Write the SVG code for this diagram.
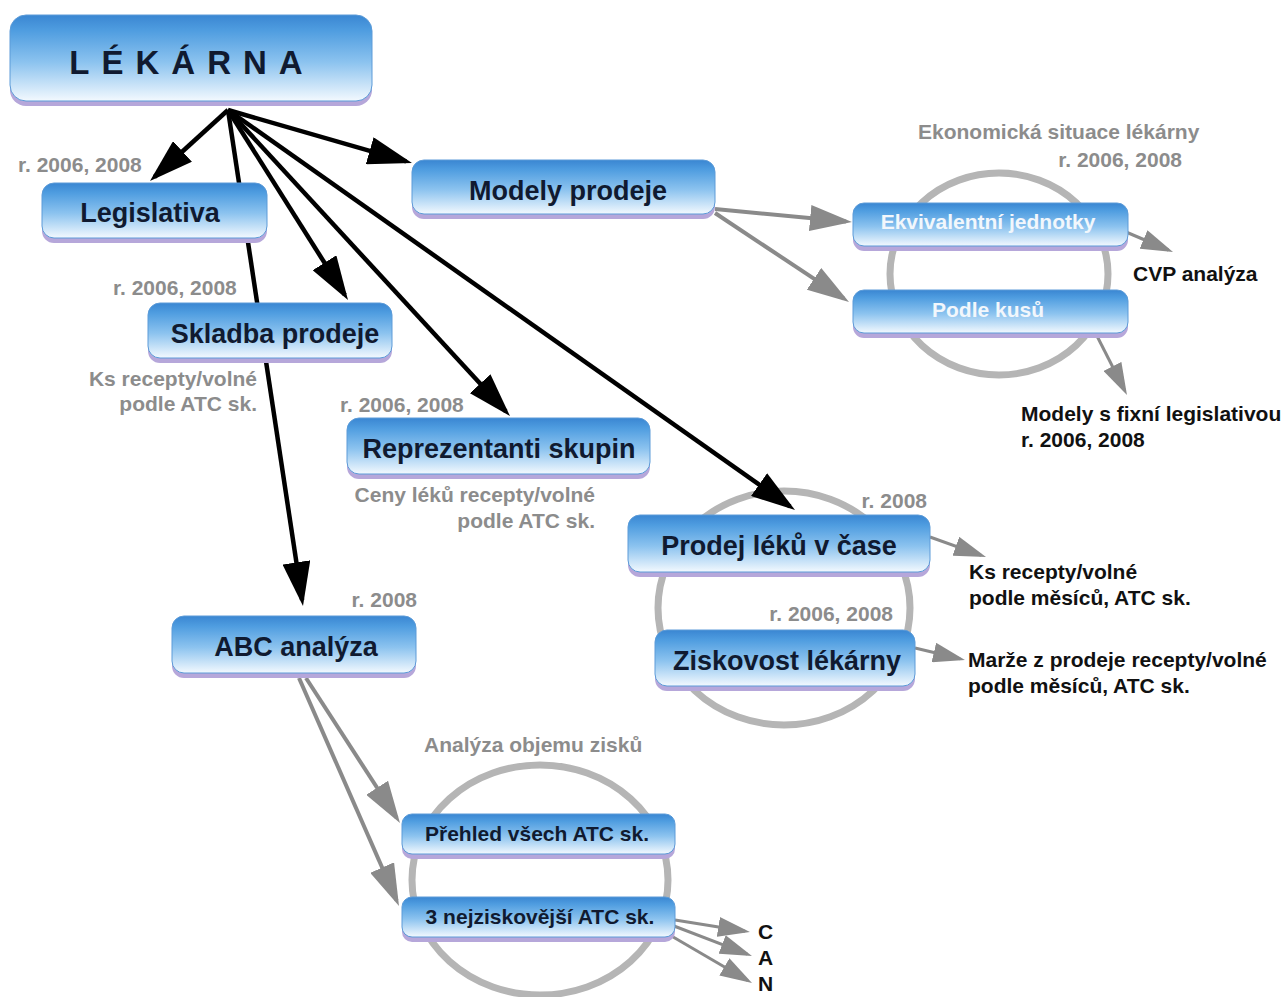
<svg xmlns="http://www.w3.org/2000/svg" width="1288" height="997" viewBox="0 0 1288 997">
<defs>
<linearGradient id="blue" x1="0" y1="0" x2="0" y2="1">
<stop offset="0" stop-color="#3a86d2"/>
<stop offset="0.18" stop-color="#4f9de0"/>
<stop offset="0.55" stop-color="#8cc3ef"/>
<stop offset="1" stop-color="#f3f9fe"/>
</linearGradient>
<marker id="ab" markerUnits="userSpaceOnUse" markerWidth="44" markerHeight="28" refX="38" refY="14" orient="auto"><path d="M0,0 L44,14 L0,28 z" fill="#000"/></marker>
<marker id="ag" markerUnits="userSpaceOnUse" markerWidth="42" markerHeight="26" refX="36" refY="13" orient="auto"><path d="M0,0 L42,13 L0,26 z" fill="#8a8a8a"/></marker>
<marker id="as" markerUnits="userSpaceOnUse" markerWidth="32" markerHeight="20" refX="27" refY="10" orient="auto"><path d="M0,0 L32,10 L0,20 z" fill="#8a8a8a"/></marker>
</defs>
<style>
.sh{fill:#b6a7da}
.bx{fill:url(#blue);stroke:#5c9bd8;stroke-width:1}
.t{font-family:"Liberation Sans",Arial,sans-serif;font-weight:bold}
.nt{font-size:27px;fill:#101a30;text-anchor:middle}
.st{font-size:21px;fill:#101a30;text-anchor:middle}
.wt{font-size:21px;fill:#f2f7fc;text-anchor:middle}
.gl{font-size:21px;fill:#8c8c8c}
.bl{font-size:21px;fill:#111}
.end{text-anchor:end}
.ring{fill:none;stroke:#b5b5b5;stroke-width:7}
.cb{stroke:#000;stroke-width:4.5;fill:none;marker-end:url(#ab)}
.cg{stroke:#8a8a8a;stroke-width:4;fill:none;marker-end:url(#ag)}
.cs{stroke:#8a8a8a;stroke-width:3;fill:none;marker-end:url(#as)}
</style>
<rect width="1288" height="997" fill="#fff"/>
<g id="rings">
<ellipse class="ring" cx="999" cy="274" rx="109" ry="101"/>
<ellipse class="ring" cx="784" cy="608" rx="126" ry="117"/>
<ellipse class="ring" cx="540" cy="880" rx="128" ry="115"/>
</g>
<g id="connectors">
<line class="cb" x1="228" y1="110" x2="154.4" y2="177"/>
<line class="cb" x1="228" y1="110" x2="406.2" y2="161.3"/>
<line class="cb" x1="228" y1="110" x2="302.1" y2="600"/>
<line class="cb" x1="228" y1="110" x2="344.8" y2="294.9"/>
<line class="cb" x1="228" y1="110" x2="505.9" y2="411.6"/>
<line class="cb" x1="228" y1="110" x2="790.1" y2="506.5"/>
<line class="cg" x1="715" y1="209" x2="846" y2="221.4"/>
<line class="cg" x1="715" y1="213" x2="844" y2="298.7"/>
<line class="cg" x1="306" y1="678" x2="396.7" y2="818"/>
<line class="cg" x1="299" y1="678" x2="396.6" y2="900.5"/>
<line class="cs" x1="1126" y1="232" x2="1168.4" y2="250"/>
<line class="cs" x1="1097" y1="336" x2="1124.7" y2="390.5"/>
<line class="cs" x1="930" y1="537" x2="981.3" y2="555.3"/>
<line class="cs" x1="915" y1="648" x2="960.1" y2="658.8"/>
<line class="cs" x1="675" y1="920" x2="745" y2="931.2"/>
<line class="cs" x1="674" y1="926" x2="747.3" y2="954.2"/>
<line class="cs" x1="668" y1="934" x2="747.7" y2="980.5"/>
</g>
<g id="n-lekarna">
<rect class="sh" x="10" y="20" width="362" height="86" rx="16"/>
<rect class="bx" x="10" y="15" width="362" height="86" rx="16"/>
<text class="t" x="192" y="74" font-size="33" fill="#101a30" text-anchor="middle" letter-spacing="12">LÉKÁRNA</text>
</g>
<g id="n-legislativa">
<rect class="sh" x="42" y="188" width="225" height="55" rx="12"/>
<rect class="bx" x="42" y="183" width="225" height="55" rx="12"/>
<text class="t nt" x="150" y="222" font-size="30">Legislativa</text>
</g>
<g id="n-modely">
<rect class="sh" x="412" y="165" width="303" height="54" rx="12"/>
<rect class="bx" x="412" y="160" width="303" height="54" rx="12"/>
<text class="t nt" x="568" y="200">Modely prodeje</text>
</g>
<g id="n-skladba">
<rect class="sh" x="148" y="308" width="244" height="55" rx="12"/>
<rect class="bx" x="148" y="303" width="244" height="55" rx="12"/>
<text class="t nt" x="275" y="343">Skladba prodeje</text>
</g>
<g id="n-reprezentanti">
<rect class="sh" x="347" y="423" width="303" height="56" rx="12"/>
<rect class="bx" x="347" y="418" width="303" height="56" rx="12"/>
<text class="t nt" x="499" y="458">Reprezentanti skupin</text>
</g>
<g id="n-prodej">
<rect class="sh" x="628" y="520" width="302" height="57" rx="12"/>
<rect class="bx" x="628" y="515" width="302" height="57" rx="12"/>
<text class="t nt" x="779" y="555">Prodej léků v čase</text>
</g>
<g id="n-ziskovost">
<rect class="sh" x="655" y="635" width="260" height="56" rx="12"/>
<rect class="bx" x="655" y="630" width="260" height="56" rx="12"/>
<text class="t nt" x="787" y="670">Ziskovost lékárny</text>
</g>
<g id="n-abc">
<rect class="sh" x="172" y="621" width="244" height="57" rx="12"/>
<rect class="bx" x="172" y="616" width="244" height="57" rx="12"/>
<text class="t nt" x="296" y="656">ABC analýza</text>
</g>
<g id="n-ekvivalentni">
<rect class="sh" x="853" y="208" width="275" height="43" rx="11"/>
<rect class="bx" x="853" y="203" width="275" height="43" rx="11"/>
<text class="t wt" x="988" y="229">Ekvivalentní jednotky</text>
</g>
<g id="n-podle">
<rect class="sh" x="853" y="295" width="275" height="43" rx="11"/>
<rect class="bx" x="853" y="290" width="275" height="43" rx="11"/>
<text class="t wt" x="988" y="317">Podle kusů</text>
</g>
<g id="n-prehled">
<rect class="sh" x="402" y="819" width="273" height="40" rx="10"/>
<rect class="bx" x="402" y="814" width="273" height="40" rx="10"/>
<text class="t st" x="537" y="841">Přehled všech ATC sk.</text>
</g>
<g id="n-nejzisk">
<rect class="sh" x="402" y="902" width="273" height="40" rx="10"/>
<rect class="bx" x="402" y="897" width="273" height="40" rx="10"/>
<text class="t st" x="540" y="924">3 nejziskovější ATC sk.</text>
</g>
<g id="labels">
<text class="t gl" x="18" y="172">r. 2006, 2008</text>
<text class="t gl" x="113" y="295">r. 2006, 2008</text>
<text class="t gl end" x="257" y="386">Ks recepty/volné</text>
<text class="t gl end" x="257" y="411">podle ATC sk.</text>
<text class="t gl" x="340" y="412">r. 2006, 2008</text>
<text class="t gl end" x="595" y="502">Ceny léků recepty/volné</text>
<text class="t gl end" x="595" y="528">podle ATC sk.</text>
<text class="t gl" x="918" y="139">Ekonomická situace lékárny</text>
<text class="t gl end" x="1182" y="167">r. 2006, 2008</text>
<text class="t gl end" x="927" y="508">r. 2008</text>
<text class="t gl end" x="893" y="621">r. 2006, 2008</text>
<text class="t gl end" x="417" y="607">r. 2008</text>
<text class="t gl" x="424" y="752">Analýza objemu zisků</text>
<text class="t bl" x="1133" y="281">CVP analýza</text>
<text class="t bl" x="1021" y="421">Modely s fixní legislativou</text>
<text class="t bl" x="1021" y="447">r. 2006, 2008</text>
<text class="t bl" x="969" y="579">Ks recepty/volné</text>
<text class="t bl" x="969" y="605">podle měsíců, ATC sk.</text>
<text class="t bl" x="968" y="667">Marže z prodeje recepty/volné</text>
<text class="t bl" x="968" y="693">podle měsíců, ATC sk.</text>
<text class="t bl" x="758" y="939">C</text>
<text class="t bl" x="758" y="965">A</text>
<text class="t bl" x="758" y="991">N</text>
</g>
</svg>
